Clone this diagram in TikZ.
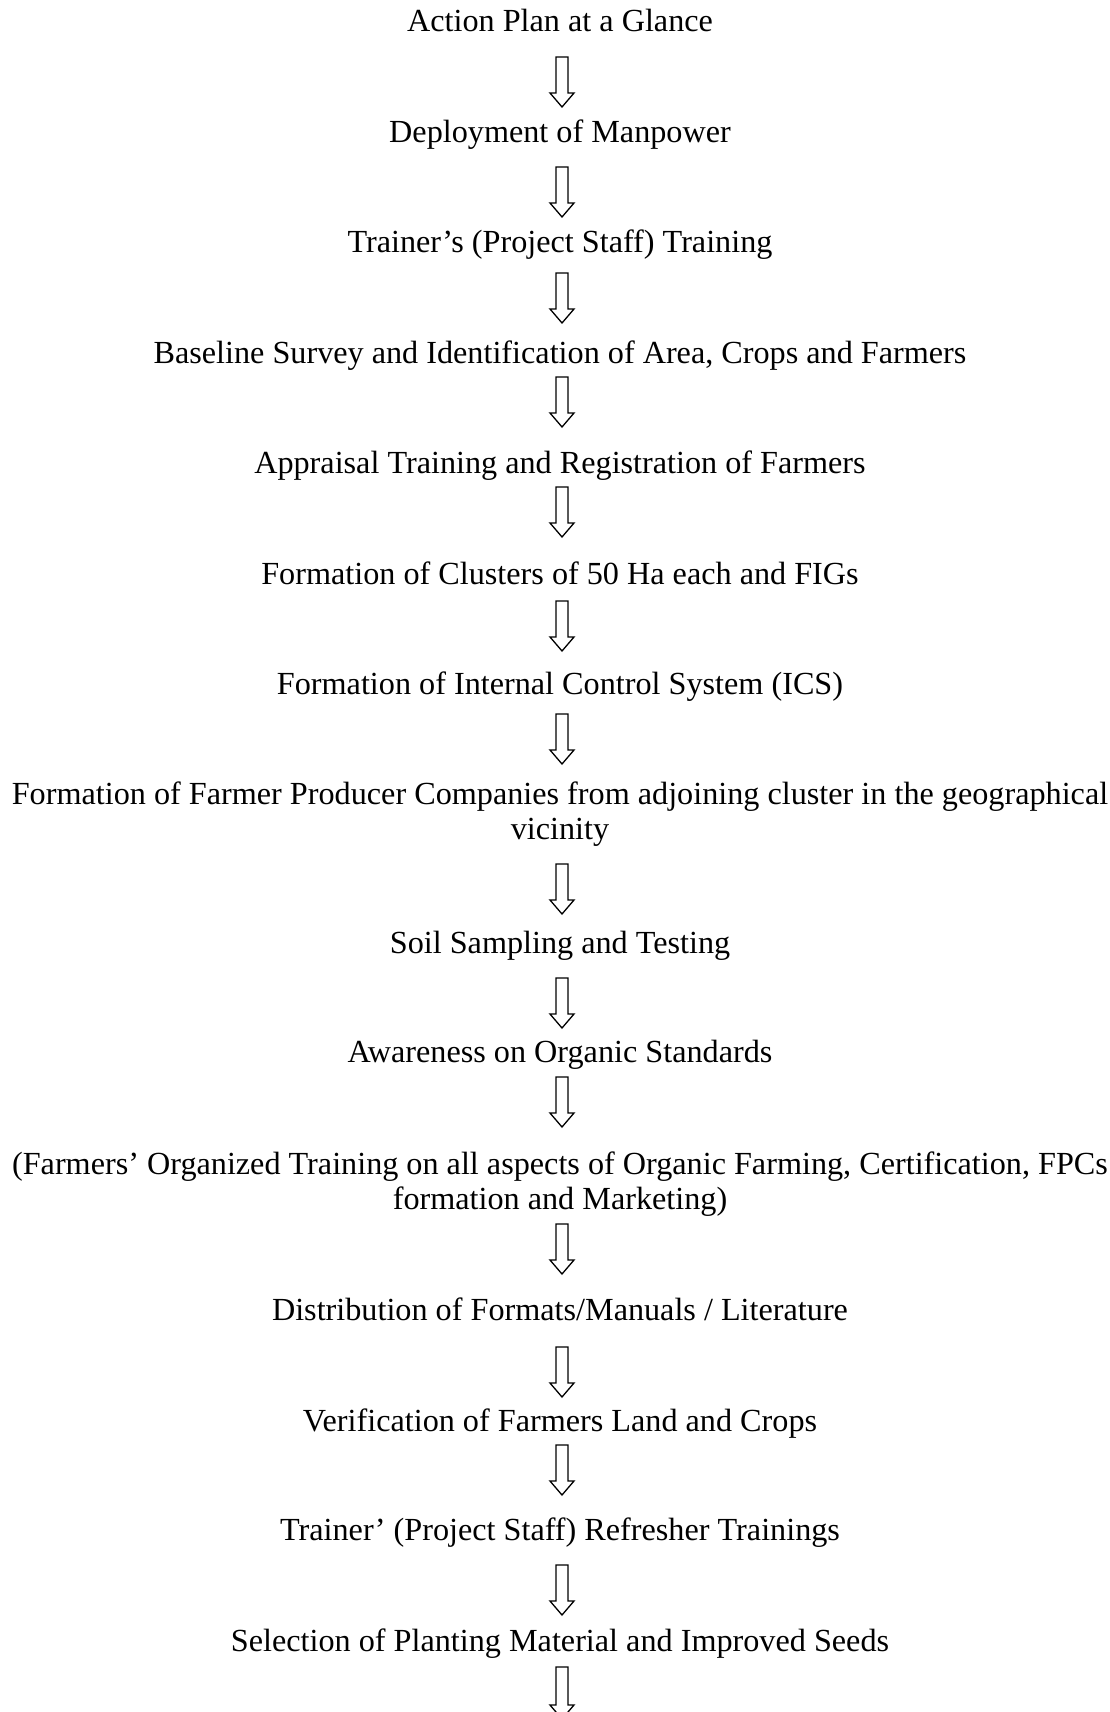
\documentclass[tikz,border=0pt]{standalone}
\usepackage{fontspec}
\setmainfont{Liberation Serif}
\usetikzlibrary{calc}
\tikzset{
  lbl/.style={anchor=base, inner sep=0pt, align=center, font=\fontsize{32.2}{35}\selectfont},
  hollowarrow/.style={draw=black, line width=1.3pt, fill=white, line join=miter},
}
% #1 from node, #2 to node, #3 gap below #1 baseline (last line), #4 gap above #2 baseline (last line)
\newcommand\flowarrow[4]{%
  \draw[hollowarrow] let \p1=($(#1.base)+(0,-#3)$), \p2=($(#2.base)+(0,#4)$) in
    (\x1-4pt,\y1) -- (\x1+8pt,\y1) -- (\x1+8pt,\y2+14pt) -- (\x1+14pt,\y2+14pt)
    -- (\x1+2pt,\y2) -- (\x1-10pt,\y2+14pt) -- (\x1-4pt,\y2+14pt) -- cycle;}
\begin{document}
\begin{tikzpicture}[x=1pt,y=1pt]
\useasboundingbox (0,0) rectangle (1110,-1712);
\clip (0,0) rectangle (1110,-1712);
\node[lbl] (n1) at (560,-32) {Action Plan at a Glance};
\node[lbl] (n2) at (560,-143) {Deployment of Manpower};
\node[lbl] (n3) at (560,-252) {Trainer’s (Project Staff) Training};
\node[lbl] (n4) at (560,-363) {Baseline Survey and Identification of Area, Crops and Farmers};
\node[lbl] (n5) at (560,-473) {Appraisal Training and Registration of Farmers};
\node[lbl] (n6) at (560,-584) {Formation of Clusters of 50 Ha each and FIGs};
\node[lbl] (n7) at (560,-694) {Formation of Internal Control System (ICS)};
\node[lbl] (n8) at (560,-839) {Formation of Farmer Producer Companies from adjoining cluster in the geographical\\ vicinity};
\node[lbl] (n9) at (560,-953) {Soil Sampling and Testing};
\node[lbl] (n10) at (560,-1062) {Awareness on Organic Standards};
\node[lbl] (n11) at (560,-1209) {(Farmers’ Organized Training on all aspects of Organic Farming, Certification, FPCs\\ formation and Marketing)};
\node[lbl] (n12) at (560,-1320) {Distribution of Formats/Manuals / Literature};
\node[lbl] (n13) at (560,-1431) {Verification of Farmers Land and Crops};
\node[lbl] (n14) at (560,-1540) {Trainer’ (Project Staff) Refresher Trainings};
\node[lbl] (n15) at (560,-1651) {Selection of Planting Material and Improved Seeds};
\coordinate (nend) at (560,-1719);
\flowarrow{n1}{n2}{25}{36}
\flowarrow{n2}{n3}{24}{35}
\flowarrow{n3}{n4}{21}{40}
\flowarrow{n4}{n5}{14}{46}
\flowarrow{n5}{n6}{14}{47}
\flowarrow{n6}{n7}{17}{43}
\flowarrow{n7}{n8}{20}{75}
\flowarrow{n8}{n9}{25}{39}
\flowarrow{n9}{n10}{25}{34}
\flowarrow{n10}{n11}{15}{82}
\flowarrow{n11}{n12}{15}{46}
\flowarrow{n12}{n13}{27}{34}
\flowarrow{n13}{n14}{14}{45}
\flowarrow{n14}{n15}{25}{36}
\draw[hollowarrow] let \p1=($(n15.base)+(0,-16)$), \p2=(nend) in
    (\x1-4pt,\y1) -- (\x1+8pt,\y1) -- (\x1+8pt,\y2+14pt) -- (\x1+14pt,\y2+14pt)
    -- (\x1+2pt,\y2) -- (\x1-10pt,\y2+14pt) -- (\x1-4pt,\y2+14pt) -- cycle;
\end{tikzpicture}
\end{document}
